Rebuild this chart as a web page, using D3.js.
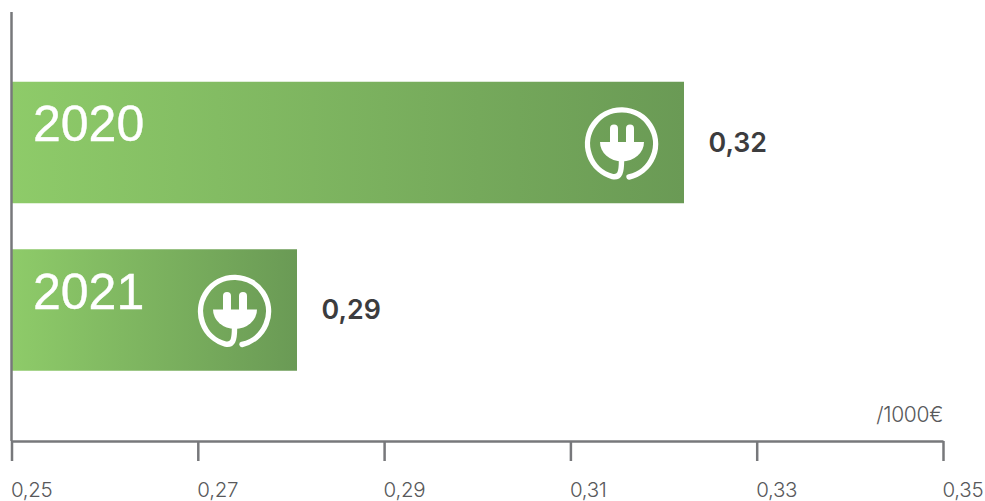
<!DOCTYPE html>
<html>
<head>
<meta charset="utf-8">
<style>
  html, body { margin: 0; padding: 0; background: #fff; }
  svg { display: block; }
  text { font-family: Inter, "Liberation Sans", Arial, sans-serif; }
  text.year { font-family: "Liberation Sans", Arial, sans-serif; }
</style>
<script src="https://cdn.jsdelivr.net/npm/d3@7"></script>
</head>
<body>
<svg id="chart" width="985" height="501"></svg>
<script>
// Electricity price per 1000 euro, by year
const years = ["2020", "2021"];
const prices = [0.32, 0.29];
const axisTicks = [0.25, 0.27, 0.29, 0.31, 0.33, 0.35];
const unitLabel = "/1000€";

const axisLeft = 11.5, axisRight = 943, axisY = 441, axisTop = 12;
const axisColor = "#77787b";
const comma = v => d3.format(".2f")(v).replace(".", ",");

const svg = d3.select("#chart");

// The ruler below the bars and the bars themselves run on separate scales
const xAxisScale = d3.scaleLinear().domain([0.25, 0.35]).range([axisLeft, axisRight]);
const barEnd = d3.scaleLinear().domain([0.29, 0.32]).range([297, 684]);
const rowY = d3.scalePoint().domain(years).range([142.5, 310]);
const barHeight = 121.5;

const grad = svg.append("defs").append("linearGradient")
  .attr("id", "barFill").attr("x1", 0).attr("x2", 1).attr("y1", 0).attr("y2", 0);
grad.append("stop").attr("offset", "0%").attr("stop-color", "#8ecb69");
grad.append("stop").attr("offset", "100%").attr("stop-color", "#6a9a55");

const rows = d3.zip(years, prices).map(([year, price]) => ({ year, price }));

svg.selectAll("rect.bar").data(rows).join("rect")
  .attr("class", "bar")
  .attr("x", axisLeft)
  .attr("y", d => rowY(d.year) - barHeight / 2)
  .attr("width", d => barEnd(d.price) - axisLeft)
  .attr("height", barHeight)
  .attr("fill", "url(#barFill)");

// Year captions inside the bars
svg.selectAll("text.year").data(rows).join("text")
  .attr("class", "year")
  .attr("x", 33)
  .attr("y", d => rowY(d.year) - 1.5)
  .attr("font-size", 50)
  .attr("stroke", "#fff")
  .attr("stroke-width", 0.4)
  .attr("fill", "#fff")
  .text(d => d.year);

// Value captions to the right of the bars
svg.selectAll("text.value").data(rows).join("text")
  .attr("class", "value")
  .attr("x", d => barEnd(d.price) + 24.5)
  .attr("y", d => rowY(d.year) + 9)
  .attr("font-size", 26.8)
  .attr("font-weight", 600)
  .attr("fill", "#3c3c3e")
  .text(d => comma(d.price));

// Plug icon: cord loops round the plug head
const plug = svg.selectAll("g.plug").data(rows).join("g")
  .attr("class", "plug")
  .attr("transform", d => `translate(${barEnd(d.price) - 62},${rowY(d.year) + 1.5})`);
plug.append("path")
  .attr("d", "M7,33 A34,34 0 1 0 -9.5,32.6 C-2,34 -0.5,28 -0.5,17")
  .attr("fill", "none").attr("stroke", "#fff").attr("stroke-width", 5.4).attr("stroke-linecap", "round");
plug.append("path").attr("d", "M-22,-2 H22 A22,19.5 0 0 1 -22,-2 Z").attr("fill", "#fff");
plug.selectAll("rect").data([-8, 8]).join("rect")
  .attr("x", d => d - 4).attr("y", -19.5)
  .attr("width", 8).attr("height", 22).attr("rx", 4).attr("fill", "#fff");

// Axes
svg.append("line")
  .attr("x1", axisLeft).attr("x2", axisLeft)
  .attr("y1", axisTop).attr("y2", axisY)
  .attr("stroke", axisColor).attr("stroke-width", 2.5);

const xAxis = d3.axisBottom(xAxisScale)
  .tickValues(axisTicks)
  .tickFormat(comma)
  .tickSize(20)
  .tickSizeOuter(0)
  .tickPadding(21.5);

const gx = svg.append("g").attr("transform", `translate(0,${axisY})`).call(xAxis);
gx.attr("font-family", null);
gx.select(".domain").attr("stroke", axisColor).attr("stroke-width", 2.5);
gx.selectAll(".tick line").attr("stroke", axisColor).attr("stroke-width", 2.5);
gx.selectAll(".tick text")
  .attr("text-anchor", "start")
  .attr("x", -1)
  .attr("font-size", 20.5)
  .attr("font-weight", 300)
  .attr("letter-spacing", -0.3)
  .attr("fill", "#58595b");

svg.append("text")
  .attr("x", 943).attr("y", 422)
  .attr("text-anchor", "end")
  .attr("font-size", 21)
  .attr("font-weight", 300)
  .attr("letter-spacing", -0.3)
  .attr("fill", "#58595b")
  .text(unitLabel);
</script>
</body>
</html>
